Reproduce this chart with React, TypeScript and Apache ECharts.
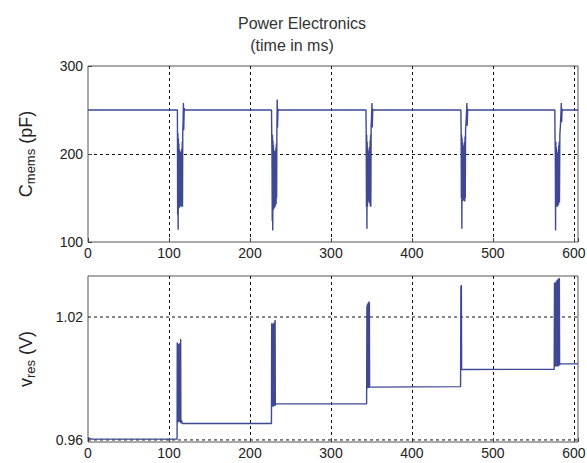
import React, { useEffect, useRef } from "react";
import * as echarts from "echarts";

// ---- texts / ticks ----
const titleLines = ["Power Electronics", "(time in ms)"];
const xTickValues = [0, 100, 200, 300, 400, 500, 600];
const cmemsTickValues = [100, 200, 300];
const vresTickValues = [0.96, 1.02];
const timeRange = [0, 605];

// ---- C_mems (pF) vs time (ms) ----
const cmemsStart = [[0, 250]];
const cmemsEvent1 = [
  [110.4, 250], [110.7, 131], [111.0, 224], [111.3, 114], [111.6, 218], [111.9, 138], [112.2, 212],
  [112.5, 142], [112.8, 205], [113.1, 139], [113.4, 201], [113.7, 145], [114.0, 198], [114.3, 141],
  [114.6, 203], [114.9, 146], [115.2, 199], [115.5, 140], [115.8, 206], [116.1, 148], [116.4, 214],
  [116.7, 140], [117.0, 226], [117.4, 236], [117.8, 258], [118.2, 227], [118.8, 252], [119.5, 250],
];
const cmemsEvent2 = [
  [226.6, 250], [226.9, 218], [227.2, 196], [227.5, 124], [227.8, 222], [228.1, 113], [228.4, 215],
  [228.7, 136], [229.0, 210], [229.3, 142], [229.6, 200], [229.9, 138], [230.2, 196], [230.5, 146],
  [230.8, 204], [231.1, 140], [231.4, 199], [231.7, 148], [232.0, 207], [232.3, 143], [232.6, 212],
  [232.9, 150], [233.2, 224], [233.6, 262], [234.0, 230], [234.6, 251], [235.3, 250],
];
const cmemsEvent3 = [
  [343.2, 250], [343.5, 224], [343.8, 140], [344.1, 222], [344.4, 115], [344.7, 214], [345.0, 140],
  [345.3, 207], [345.6, 146], [345.9, 200], [346.2, 172], [346.5, 196], [346.8, 150], [347.1, 204],
  [347.4, 144], [347.7, 208], [348.0, 155], [348.3, 215], [348.6, 141], [348.9, 222], [349.2, 140],
  [349.6, 231], [350.0, 240], [350.6, 258], [351.0, 230], [351.6, 251], [352.5, 250],
];
const cmemsEvent4 = [
  [460.4, 250], [460.7, 226], [461.0, 150], [461.3, 222], [461.6, 115], [461.9, 218], [462.2, 146],
  [462.5, 213], [462.8, 148], [463.1, 208], [463.4, 150], [463.7, 205], [464.0, 147], [464.3, 210],
  [464.6, 152], [464.9, 214], [465.2, 146], [465.5, 220], [465.8, 150], [466.2, 228], [466.8, 236],
  [467.8, 258], [468.2, 232], [468.8, 251], [469.4, 250],
];
const cmemsEvent5 = [
  [576.4, 250], [576.7, 215], [577.0, 200], [577.3, 113], [577.6, 214], [577.9, 140], [578.2, 208],
  [578.5, 143], [578.8, 202], [579.1, 146], [579.4, 196], [579.7, 140], [580.0, 200], [580.3, 147],
  [580.6, 205], [580.9, 142], [581.2, 210], [581.5, 150], [581.8, 214], [582.1, 145], [582.6, 222],
  [583.3, 232], [584.4, 258], [584.8, 236], [585.4, 251], [586.2, 250],
];
const cmemsEnd = [[605, 250]];

// ---- v_res (V) vs time (ms) ----
const vresStart = [[0, 0.9612], [2.5, 0.9606], [6, 0.9604]];
const vresEvent1 = [
  [110.0, 0.9604], [110.2, 1.0075], [110.5, 0.9688], [110.8, 1.007], [111.1, 0.9692], [111.4, 1.007],
  [111.7, 0.9686], [112.0, 1.0062], [112.3, 0.9694], [112.6, 1.0068], [112.9, 0.9689], [113.2, 1.0072],
  [113.5, 0.969], [113.8, 1.0064], [114.1, 0.9685], [114.4, 1.0092], [114.7, 0.9682], [115.4, 0.9696],
  [116.4, 0.968], [226.5, 0.968],
];
const vresEvent2 = [
  [226.6, 0.968], [226.8, 1.017], [227.1, 0.9765], [227.4, 1.0164], [227.7, 0.9768], [228.0, 1.0168],
  [228.3, 0.9762], [228.6, 1.016], [228.9, 0.977], [229.2, 1.0166], [229.5, 0.9764], [229.8, 1.0172],
  [230.1, 0.9768], [230.4, 1.0175], [230.7, 0.9766], [231.0, 1.0185], [231.3, 0.9772], [232.2, 0.9776],
  [344.0, 0.9776],
];
const vresEvent3 = [
  [344.1, 0.9776], [344.4, 1.0255], [344.7, 0.9856], [345.0, 1.0262], [345.3, 0.9852], [345.6, 1.0266],
  [345.9, 0.9858], [346.2, 1.027], [346.5, 0.9854], [346.8, 1.0275], [347.1, 0.9856], [347.4, 1.0272],
  [347.7, 0.9858], [348.2, 0.986], [460.0, 0.986],
];
const vresEvent4 = [
  [460.1, 0.986], [460.4, 1.035], [460.7, 0.9942], [461.0, 1.0356], [461.3, 0.9944], [462.0, 0.9945],
  [575.6, 0.9945],
];
const vresEvent5 = [
  [575.7, 0.9945], [576.0, 1.0368], [576.3, 0.996], [576.6, 1.0362], [576.9, 0.9958], [577.2, 1.0366],
  [577.5, 0.9962], [577.8, 1.037], [578.1, 0.9958], [578.4, 1.0374], [578.7, 0.996], [579.0, 1.0378],
  [579.3, 0.9962], [579.6, 1.038], [579.9, 0.9958], [580.2, 1.0384], [580.5, 0.9962], [580.8, 1.0386],
  [581.1, 0.996], [581.4, 1.0388], [581.7, 0.9964], [582.0, 1.039], [582.3, 0.9966], [583.2, 0.9971],
];
const vresEnd = [[605, 0.9971]];

const FONT = '"Liberation Sans", Arial, sans-serif';
const LINE_COLOR = "#3e4894";
const GRID_LINE = { type: [3, 3] as any, color: "#111", width: 1 };
const TICK_COLOR = "#444";

export default function App() {
  const ref = useRef<HTMLDivElement>(null);

  useEffect(() => {
    if (!ref.current) return;
    const chart = echarts.init(ref.current, undefined, { renderer: "svg" });

    const cmemsData = [
      ...cmemsStart, ...cmemsEvent1, ...cmemsEvent2, ...cmemsEvent3, ...cmemsEvent4, ...cmemsEvent5, ...cmemsEnd,
    ];
    const vresData = [
      ...vresStart, ...vresEvent1, ...vresEvent2, ...vresEvent3, ...vresEvent4, ...vresEvent5, ...vresEnd,
    ];

    const labelStyle = { fontFamily: FONT, fontSize: 14, color: "#222" };

    const mainX = (gridIndex: number) => ({
      type: "value",
      gridIndex,
      min: timeRange[0],
      max: timeRange[1],
      interval: 100,
      axisLine: { show: false },
      axisTick: { show: true, inside: true, length: 4, lineStyle: { color: TICK_COLOR } },
      axisLabel: {
        ...labelStyle,
        margin: 4,
        formatter: (v: number) => (xTickValues.includes(v) ? String(v) : ""),
      },
      splitLine: { show: true, showMinLine: false, showMaxLine: false, lineStyle: GRID_LINE },
    });

    const nameRich = {
      a: { fontFamily: FONT, fontSize: 18, color: "#222" },
      b: { fontFamily: FONT, fontSize: 13, color: "#222", padding: [10, 0, 0, 0] },
    };

    const titleText = (text: string, x: number, y: number) => ({
      type: "text",
      x,
      y,
      style: {
        text,
        font: `16px ${FONT}`,
        fill: "#333",
        textAlign: "center",
        textVerticalAlign: "middle",
        align: "center",
        verticalAlign: "middle",
      },
    });

    const rightMask = (y: number, h: number) => ({
      type: "rect",
      z: 100,
      silent: true,
      shape: { x: 579.3, y, width: 10, height: h },
      style: { fill: "#fff" },
    });

    const gridLineSeries = vresTickValues.map((v) => ({
      type: "line",
      xAxisIndex: 1,
      yAxisIndex: 1,
      data: timeRange.map((t) => [t, v]),
      symbol: "none",
      silent: true,
      lineStyle: GRID_LINE,
      z: 1,
    }));

    const option: any = {
      animation: false,
      backgroundColor: "#fff",
      graphic: [
        titleText(titleLines[0], 302, 23),
        titleText(titleLines[1], 292, 45),
        rightMask(60, 184),
        rightMask(270, 174),
      ],
      grid: [
        { left: 88, top: 66, width: 490, height: 176, show: true, borderColor: "#555", borderWidth: 1, backgroundColor: "#fff", outerBoundsMode: "none" },
        { left: 88, top: 276, width: 490, height: 166, show: true, borderColor: "#555", borderWidth: 1, backgroundColor: "#fff", outerBoundsMode: "none" },
      ],
      xAxis: [mainX(0), mainX(1)],
      yAxis: [
        {
          type: "value",
          gridIndex: 0,
          min: 100,
          max: 300,
          interval: 100,
          axisLine: { show: false },
          axisTick: { show: true, inside: true, length: 4, lineStyle: { color: TICK_COLOR } },
          axisLabel: {
            ...labelStyle,
            margin: 5,
            formatter: (v: number) => (cmemsTickValues.includes(v) ? String(v) : ""),
          },
          splitLine: { show: true, showMinLine: false, showMaxLine: false, lineStyle: GRID_LINE },
          name: "{a|C}{b|mems}{a| (pF)}",
          nameLocation: "middle",
          nameGap: 51,
          nameTextStyle: { rich: nameRich, fontFamily: FONT, fontSize: 18, color: "#222" },
        },
        {
          type: "value",
          gridIndex: 1,
          min: 0.959,
          max: 1.04,
          axisLine: { show: false },
          axisTick: { show: false },
          axisLabel: {
            ...labelStyle,
            margin: 5,
            customValues: vresTickValues,
            formatter: (v: number) => v.toFixed(2),
          },
          splitLine: { show: false },
          name: "{a|v}{b|res}{a| (V)}",
          nameLocation: "middle",
          nameGap: 51,
          nameTextStyle: { rich: nameRich, fontFamily: FONT, fontSize: 18, color: "#222" },
        },
      ],
      series: [
        ...gridLineSeries,
        {
          type: "line",
          xAxisIndex: 0,
          yAxisIndex: 0,
          data: cmemsData,
          symbol: "none",
          showSymbol: false,
          clip: true,
          lineStyle: { color: LINE_COLOR, width: 1.4 },
          z: 3,
        },
        {
          type: "line",
          xAxisIndex: 1,
          yAxisIndex: 1,
          data: vresData,
          symbol: "none",
          showSymbol: false,
          clip: true,
          lineStyle: { color: LINE_COLOR, width: 1.4 },
          z: 3,
        },
      ],
    };

    chart.setOption(option);
    return () => chart.dispose();
  }, []);

  return (
    <div
      ref={ref}
      style={{ position: "fixed", left: 0, top: 0, width: 587, height: 463, background: "#fff" }}
    />
  );
}
